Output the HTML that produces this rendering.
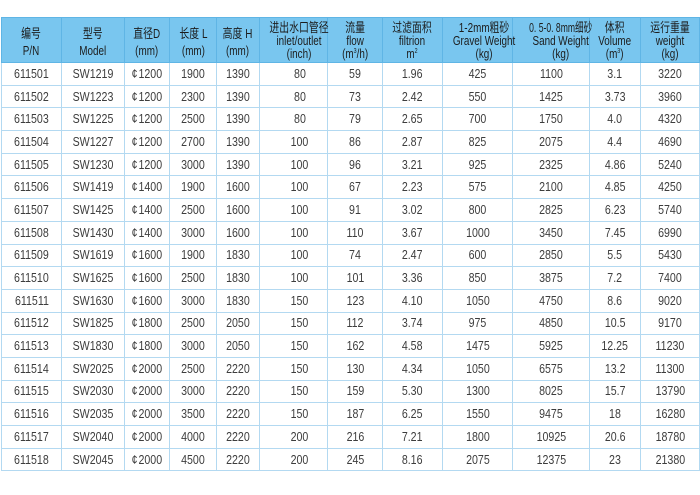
<!DOCTYPE html>
<html><head><meta charset="utf-8">
<style>
html,body{margin:0;padding:0;background:#fff;width:700px;height:495px;overflow:hidden}
table{position:absolute;left:1px;top:17px;border-collapse:collapse;table-layout:fixed;width:698px;
font-family:"Liberation Sans","Noto Sans CJK SC",sans-serif;}
td{border:1px solid #b3d9f1;text-align:center;padding:0;color:#3d3d3d;font-size:12.5px;height:21.7px;line-height:14px;white-space:nowrap;overflow:visible}
thead td{background:#79c6ef;border-color:#5fb5e5;color:#1c1c1c;height:45px;line-height:17px;font-size:12.5px;padding-top:3px;box-sizing:border-box}
thead td.t3{line-height:13px;padding-top:1px}
.c{display:inline-block;transform:scaleX(.85);transform-origin:center}
.h{display:inline-block;transform:scaleX(.76);transform-origin:center;font-size:13px}
.n{display:inline-block;transform:scaleX(.87);transform-origin:center}
.cj{font-family:"Noto Sans CJK SC","WenQuanYi Zen Hei",sans-serif;font-size:13px}
sup{font-size:7px;vertical-align:5px;line-height:0}
td.io{padding-left:12px}
</style></head><body>
<table>
<colgroup>
<col style="width:60px"><col style="width:63px"><col style="width:45px"><col style="width:47px"><col style="width:43px"><col style="width:68px"><col style="width:55px"><col style="width:60px"><col style="width:70px"><col style="width:77px"><col style="width:51px"><col style="width:59px">
</colgroup>
<thead><tr>
<td><span class="h"><span class="cj">编号</span><br>P/N</span></td>
<td><span class="h"><span class="cj">型号</span><br>Model</span></td>
<td><span class="h"><span class="cj">直径</span>D<br>(mm)</span></td>
<td><span class="h"><span class="cj">长度</span> L<br>(mm)</span></td>
<td><span class="h"><span class="cj">高度</span> H<br>(mm)</span></td>
<td class="t3"><span class="h"><span class="cj">进出水口管径</span><br>inlet/outlet<br>(inch)</span></td>
<td class="t3"><span class="h"><span class="cj">流量</span><br>flow<br>(m<sup>3</sup>/h)</span></td>
<td class="t3"><span class="h"><span class="cj">过滤面积</span><br>filtrion<br>m<sup>2</sup></span></td>
<td class="t3"><span class="h">1-2mm<span class="cj">粗砂</span><br>Gravel Weight<br>(kg)</span></td>
<td class="t3"><span class="h"><span class="n">0. 5-0. 8mm<span class="cj">细砂</span></span><br>Sand Weight<br>(kg)</span></td>
<td class="t3"><span class="h"><span class="cj">体积</span><br>Volume<br>(m<sup>3</sup>)</span></td>
<td class="t3"><span class="h"><span class="cj">运行重量</span><br>weight<br>(kg)</span></td>
</tr></thead>
<tbody>
<tr><td><span class="c">611501</span></td><td><span class="c">SW1219</span></td><td><span class="c">¢&#8202;1200</span></td><td><span class="c">1900</span></td><td><span class="c">1390</span></td><td class="io"><span class="c">80</span></td><td><span class="c">59</span></td><td><span class="c">1.96</span></td><td><span class="c">425</span></td><td><span class="c">1100</span></td><td><span class="c">3.1</span></td><td><span class="c">3220</span></td></tr>
<tr><td><span class="c">611502</span></td><td><span class="c">SW1223</span></td><td><span class="c">¢&#8202;1200</span></td><td><span class="c">2300</span></td><td><span class="c">1390</span></td><td class="io"><span class="c">80</span></td><td><span class="c">73</span></td><td><span class="c">2.42</span></td><td><span class="c">550</span></td><td><span class="c">1425</span></td><td><span class="c">3.73</span></td><td><span class="c">3960</span></td></tr>
<tr><td><span class="c">611503</span></td><td><span class="c">SW1225</span></td><td><span class="c">¢&#8202;1200</span></td><td><span class="c">2500</span></td><td><span class="c">1390</span></td><td class="io"><span class="c">80</span></td><td><span class="c">79</span></td><td><span class="c">2.65</span></td><td><span class="c">700</span></td><td><span class="c">1750</span></td><td><span class="c">4.0</span></td><td><span class="c">4320</span></td></tr>
<tr><td><span class="c">611504</span></td><td><span class="c">SW1227</span></td><td><span class="c">¢&#8202;1200</span></td><td><span class="c">2700</span></td><td><span class="c">1390</span></td><td class="io"><span class="c">100</span></td><td><span class="c">86</span></td><td><span class="c">2.87</span></td><td><span class="c">825</span></td><td><span class="c">2075</span></td><td><span class="c">4.4</span></td><td><span class="c">4690</span></td></tr>
<tr><td><span class="c">611505</span></td><td><span class="c">SW1230</span></td><td><span class="c">¢&#8202;1200</span></td><td><span class="c">3000</span></td><td><span class="c">1390</span></td><td class="io"><span class="c">100</span></td><td><span class="c">96</span></td><td><span class="c">3.21</span></td><td><span class="c">925</span></td><td><span class="c">2325</span></td><td><span class="c">4.86</span></td><td><span class="c">5240</span></td></tr>
<tr><td><span class="c">611506</span></td><td><span class="c">SW1419</span></td><td><span class="c">¢&#8202;1400</span></td><td><span class="c">1900</span></td><td><span class="c">1600</span></td><td class="io"><span class="c">100</span></td><td><span class="c">67</span></td><td><span class="c">2.23</span></td><td><span class="c">575</span></td><td><span class="c">2100</span></td><td><span class="c">4.85</span></td><td><span class="c">4250</span></td></tr>
<tr><td><span class="c">611507</span></td><td><span class="c">SW1425</span></td><td><span class="c">¢&#8202;1400</span></td><td><span class="c">2500</span></td><td><span class="c">1600</span></td><td class="io"><span class="c">100</span></td><td><span class="c">91</span></td><td><span class="c">3.02</span></td><td><span class="c">800</span></td><td><span class="c">2825</span></td><td><span class="c">6.23</span></td><td><span class="c">5740</span></td></tr>
<tr><td><span class="c">611508</span></td><td><span class="c">SW1430</span></td><td><span class="c">¢&#8202;1400</span></td><td><span class="c">3000</span></td><td><span class="c">1600</span></td><td class="io"><span class="c">100</span></td><td><span class="c">110</span></td><td><span class="c">3.67</span></td><td><span class="c">1000</span></td><td><span class="c">3450</span></td><td><span class="c">7.45</span></td><td><span class="c">6990</span></td></tr>
<tr><td><span class="c">611509</span></td><td><span class="c">SW1619</span></td><td><span class="c">¢&#8202;1600</span></td><td><span class="c">1900</span></td><td><span class="c">1830</span></td><td class="io"><span class="c">100</span></td><td><span class="c">74</span></td><td><span class="c">2.47</span></td><td><span class="c">600</span></td><td><span class="c">2850</span></td><td><span class="c">5.5</span></td><td><span class="c">5430</span></td></tr>
<tr><td><span class="c">611510</span></td><td><span class="c">SW1625</span></td><td><span class="c">¢&#8202;1600</span></td><td><span class="c">2500</span></td><td><span class="c">1830</span></td><td class="io"><span class="c">100</span></td><td><span class="c">101</span></td><td><span class="c">3.36</span></td><td><span class="c">850</span></td><td><span class="c">3875</span></td><td><span class="c">7.2</span></td><td><span class="c">7400</span></td></tr>
<tr><td><span class="c">611511</span></td><td><span class="c">SW1630</span></td><td><span class="c">¢&#8202;1600</span></td><td><span class="c">3000</span></td><td><span class="c">1830</span></td><td class="io"><span class="c">150</span></td><td><span class="c">123</span></td><td><span class="c">4.10</span></td><td><span class="c">1050</span></td><td><span class="c">4750</span></td><td><span class="c">8.6</span></td><td><span class="c">9020</span></td></tr>
<tr><td><span class="c">611512</span></td><td><span class="c">SW1825</span></td><td><span class="c">¢&#8202;1800</span></td><td><span class="c">2500</span></td><td><span class="c">2050</span></td><td class="io"><span class="c">150</span></td><td><span class="c">112</span></td><td><span class="c">3.74</span></td><td><span class="c">975</span></td><td><span class="c">4850</span></td><td><span class="c">10.5</span></td><td><span class="c">9170</span></td></tr>
<tr><td><span class="c">611513</span></td><td><span class="c">SW1830</span></td><td><span class="c">¢&#8202;1800</span></td><td><span class="c">3000</span></td><td><span class="c">2050</span></td><td class="io"><span class="c">150</span></td><td><span class="c">162</span></td><td><span class="c">4.58</span></td><td><span class="c">1475</span></td><td><span class="c">5925</span></td><td><span class="c">12.25</span></td><td><span class="c">11230</span></td></tr>
<tr><td><span class="c">611514</span></td><td><span class="c">SW2025</span></td><td><span class="c">¢&#8202;2000</span></td><td><span class="c">2500</span></td><td><span class="c">2220</span></td><td class="io"><span class="c">150</span></td><td><span class="c">130</span></td><td><span class="c">4.34</span></td><td><span class="c">1050</span></td><td><span class="c">6575</span></td><td><span class="c">13.2</span></td><td><span class="c">11300</span></td></tr>
<tr><td><span class="c">611515</span></td><td><span class="c">SW2030</span></td><td><span class="c">¢&#8202;2000</span></td><td><span class="c">3000</span></td><td><span class="c">2220</span></td><td class="io"><span class="c">150</span></td><td><span class="c">159</span></td><td><span class="c">5.30</span></td><td><span class="c">1300</span></td><td><span class="c">8025</span></td><td><span class="c">15.7</span></td><td><span class="c">13790</span></td></tr>
<tr><td><span class="c">611516</span></td><td><span class="c">SW2035</span></td><td><span class="c">¢&#8202;2000</span></td><td><span class="c">3500</span></td><td><span class="c">2220</span></td><td class="io"><span class="c">150</span></td><td><span class="c">187</span></td><td><span class="c">6.25</span></td><td><span class="c">1550</span></td><td><span class="c">9475</span></td><td><span class="c">18</span></td><td><span class="c">16280</span></td></tr>
<tr><td><span class="c">611517</span></td><td><span class="c">SW2040</span></td><td><span class="c">¢&#8202;2000</span></td><td><span class="c">4000</span></td><td><span class="c">2220</span></td><td class="io"><span class="c">200</span></td><td><span class="c">216</span></td><td><span class="c">7.21</span></td><td><span class="c">1800</span></td><td><span class="c">10925</span></td><td><span class="c">20.6</span></td><td><span class="c">18780</span></td></tr>
<tr><td><span class="c">611518</span></td><td><span class="c">SW2045</span></td><td><span class="c">¢&#8202;2000</span></td><td><span class="c">4500</span></td><td><span class="c">2220</span></td><td class="io"><span class="c">200</span></td><td><span class="c">245</span></td><td><span class="c">8.16</span></td><td><span class="c">2075</span></td><td><span class="c">12375</span></td><td><span class="c">23</span></td><td><span class="c">21380</span></td></tr>
</tbody>
</table>
</body></html>
